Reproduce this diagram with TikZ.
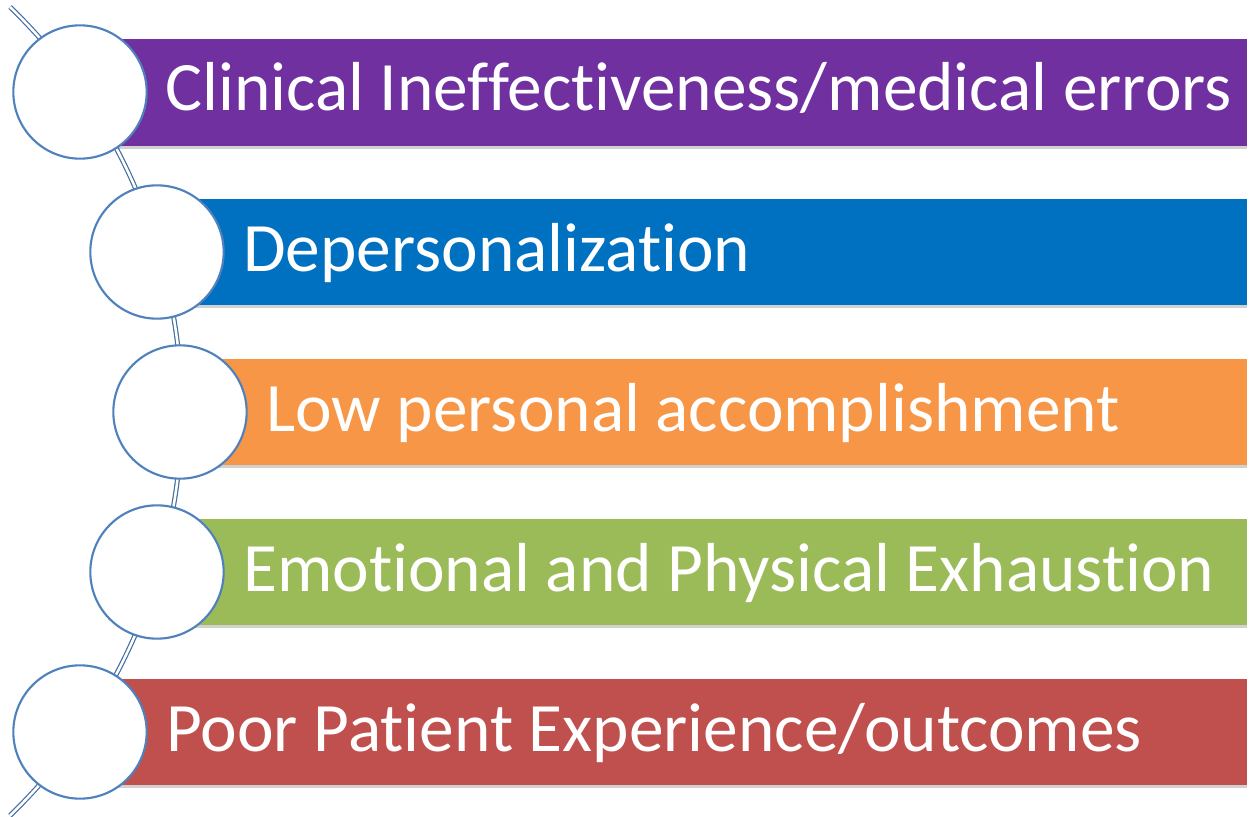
\documentclass[tikz,border=0pt]{standalone}
\usepackage{fontspec}
\setmainfont{Carlito}[Ligatures=NoCommon]
\usetikzlibrary{shadows}
\definecolor{ringblue}{RGB}{79,129,189}
\definecolor{barpurple}{RGB}{112,48,160}
\definecolor{barblue}{RGB}{0,112,192}
\definecolor{barorange}{RGB}{247,150,70}
\definecolor{bargreen}{RGB}{155,187,89}
\definecolor{barred}{RGB}{192,80,77}
\tikzset{every picture/.style={line width=0.5pt}}
\begin{document}
\begin{tikzpicture}[x=0.75pt,y=0.75pt,yscale=-1,xscale=1,
  ring/.style={circle,draw=ringblue,line width=1.6pt,fill=white,minimum size=100pt,inner sep=0pt},
  bar/.style={drop shadow={shadow xshift=0pt,shadow yshift=-2.5pt,opacity=0.18,fill=black}},
  chain/.style={draw=ringblue!85!black,line width=0.9pt,double=white,double distance=1.9pt},
  label/.style={text=white,font=\fontsize{52}{62}\selectfont,inner sep=0pt}]
%set diagram size
\useasboundingbox (0,0) rectangle (1254,817);

%Curve [id:arc]
\coordinate (arctop) at (10,7);
\draw[chain] (arctop) arc[start angle=-46,end angle=46,radius=562] coordinate (arcbottom);

%Shape: Rectangle [id:bar1]
\fill[barpurple,bar] (80,39) rectangle (1247,146);
%Shape: Rectangle [id:bar2]
\fill[barblue,bar] (157,199) rectangle (1247,305);
%Shape: Rectangle [id:bar3]
\fill[barorange,bar] (180,359) rectangle (1247,465);
%Shape: Rectangle [id:bar4]
\fill[bargreen,bar] (157,519) rectangle (1247,625);
%Shape: Rectangle [id:bar5]
\fill[barred,bar] (80,679) rectangle (1247,785);

%Shape: Circle [id:c1]
\node[ring] (c1) at (80,92) {};
%Shape: Circle [id:c2]
\node[ring] (c2) at (157,252) {};
%Shape: Circle [id:c3]
\node[ring] (c3) at (180,412) {};
%Shape: Circle [id:c4]
\node[ring] (c4) at (157,572) {};
%Shape: Circle [id:c5]
\node[ring] (c5) at (80,732) {};

% Text Node
\node[label,anchor=base west] (t1) at (165,111) {Clinical Ineffectiveness/medical errors};
% Text Node
\node[label,anchor=base west] (t2) at (243,271) {Depersonalization};
% Text Node
\node[label,anchor=base west] (t3) at (266,431) {Low personal accomplishment};
% Text Node
\node[label,anchor=base west] (t4) at (243,591) {Emotional and Physical Exhaustion};
% Text Node
\node[label,anchor=base west] (t5) at (166,751) {Poor Patient Experience/outcomes};

\end{tikzpicture}
\end{document}
